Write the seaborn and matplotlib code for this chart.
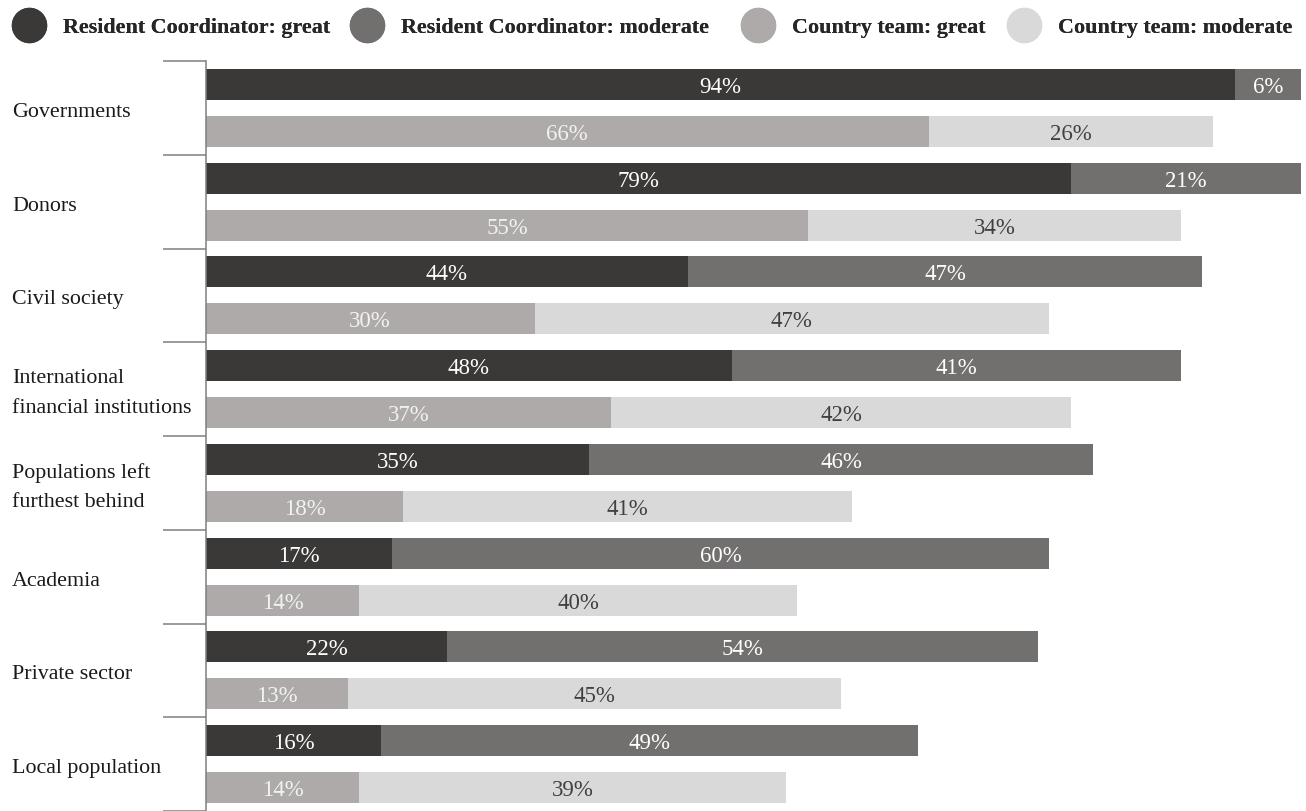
import matplotlib
matplotlib.use("Agg")
import matplotlib.pyplot as plt
import matplotlib.transforms as mtransforms
from matplotlib.lines import Line2D
import seaborn as sns
import pandas as pd

# ---- data -------------------------------------------------------------
categories = [
    "Governments",
    "Donors",
    "Civil society",
    "International\nfinancial institutions",
    "Populations left\nfurthest behind",
    "Academia",
    "Private sector",
    "Local population",
]
rc_great = [94, 79, 44, 48, 35, 17, 22, 16]
rc_moderate = [6, 21, 47, 41, 46, 60, 54, 49]
ct_great = [66, 55, 30, 37, 18, 14, 13, 14]
ct_moderate = [26, 34, 47, 42, 41, 40, 45, 39]

series_names = [
    "Resident Coordinator: great",
    "Resident Coordinator: moderate",
    "Country team: great",
    "Country team: moderate",
]
series_colors = ["#3b3937", "#72706e", "#aeaaa9", "#d9d9d9"]
value_text_colors = ["#ffffff", "#ffffff", "#f2f2f2", "#404040"]

# ---- long table: two rows (RC / CT) per category -----------------------
rows = []
for i, cat in enumerate(categories):
    rows.append(dict(row=f"{i}-RC", great=rc_great[i], moderate=rc_moderate[i],
                     c_great=series_colors[0], c_mod=series_colors[1],
                     t_great=value_text_colors[0], t_mod=value_text_colors[1]))
    rows.append(dict(row=f"{i}-CT", great=ct_great[i], moderate=ct_moderate[i],
                     c_great=series_colors[2], c_mod=series_colors[3],
                     t_great=value_text_colors[2], t_mod=value_text_colors[3]))
df = pd.DataFrame(rows)
df["total"] = df["great"] + df["moderate"]

sns.set_theme(style="white")
plt.rcParams["font.family"] = ["Liberation Serif", "DejaVu Serif"]

W, H = 1306, 812
ROW_PX = 47.15  # height of one bar row in pixels
fig = plt.figure(figsize=(W / 100, H / 100), dpi=100)
ax = fig.add_axes([206 / W, 0, (1301 - 206) / W, (812 - 62) / H])

# stacked bars: full length (moderate colour), then the "great" part over it
sns.barplot(data=df, y="row", x="total", hue="row",
            palette=dict(zip(df["row"], df["c_mod"])), orient="h",
            width=0.66, saturation=1, linewidth=0, legend=False, ax=ax)
sns.barplot(data=df, y="row", x="great", hue="row",
            palette=dict(zip(df["row"], df["c_great"])), orient="h",
            width=0.66, saturation=1, linewidth=0, legend=False, ax=ax)

# value labels centred in each segment
VAL_FS = 16.5
dy_val = 2 / ROW_PX
for k, r in df.iterrows():
    ax.text(r["great"] / 2, k + dy_val, f"{r['great']}%", ha="center",
            va="center", color=r["t_great"], fontsize=VAL_FS)
    ax.text(r["great"] + r["moderate"] / 2, k + dy_val, f"{r['moderate']}%",
            ha="center", va="center", color=r["t_mod"], fontsize=VAL_FS)

n_rows = len(df)
ax.set_xlim(0, 100)
ax.set_ylim(n_rows - 0.5 - 4 / ROW_PX, -0.5)
ax.set_xticks([])
ax.set_yticks([])
ax.set_xlabel("")
ax.set_ylabel("")

# group separators as long left ticks
ax.set_yticks([2 * i - 0.5 for i in range(len(categories) + 1)], minor=True)
ax.tick_params(axis="y", which="minor", left=True, length=31, width=1.1,
               color="#7f7f7f", direction="out")
for side in ("top", "right", "bottom"):
    ax.spines[side].set_visible(False)
ax.spines["left"].set_color("#7f7f7f")
ax.spines["left"].set_linewidth(1.1)

# category names at the left margin
trans = mtransforms.blended_transform_factory(fig.transFigure, ax.transData)
dy_cat = 3.5 / ROW_PX
for i, cat in enumerate(categories):
    ax.text(12 / W, 2 * i + 0.5 + dy_cat, cat, transform=trans, ha="left",
            va="center", fontsize=15.8, color="#1a1a1a", linespacing=1.75,
            clip_on=False)

# legend across the top, one entry per anchor
LEG_FS = 15.8
legend_x = [13, 351, 742, 1008]
for name, color, x0 in zip(series_names, series_colors, legend_x):
    h = Line2D([], [], marker="o", ls="", ms=24.5, mfc=color, mec=color)
    leg = fig.legend([h], [name], loc="center left",
                     bbox_to_anchor=(x0 / W, 1 - 28 / H), frameon=False,
                     handlelength=1.5, handletextpad=0.76,
                     prop=dict(family="Liberation Serif", weight="bold",
                               size=LEG_FS),
                     borderaxespad=0, borderpad=0)
    fig.add_artist(leg)

fig.savefig("out.png", dpi=100, facecolor="white")
